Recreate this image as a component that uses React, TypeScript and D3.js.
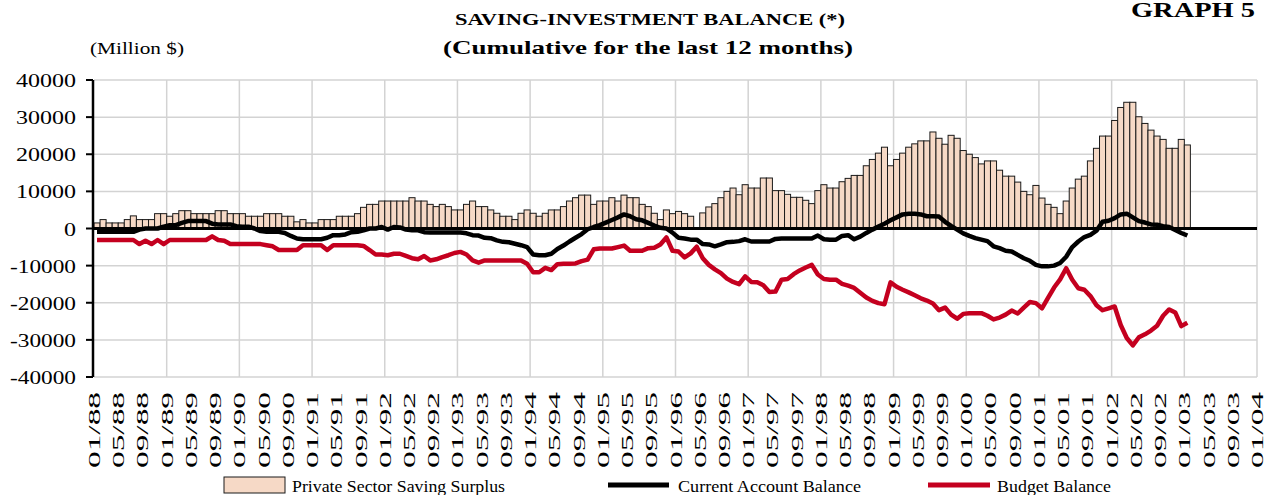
import React from "react";
import * as d3 from "d3";

// x axis labels, every 4 months, 01/88 .. 01/04
const tickLabels = [
  "01/88", "05/88", "09/88", "01/89", "05/89", "09/89", "01/90", "05/90", "09/90",
  "01/91", "05/91", "09/91", "01/92", "05/92", "09/92", "01/93", "05/93", "09/93",
  "01/94", "05/94", "09/94", "01/95", "05/95", "09/95", "01/96", "05/96", "09/96",
  "01/97", "05/97", "09/97", "01/98", "05/98", "09/98", "01/99", "05/99", "09/99",
  "01/00", "05/00", "09/00", "01/01", "05/01", "09/01", "01/02", "05/02", "09/02",
  "01/03", "05/03", "09/03", "01/04",
];
const yTicks = [40000, 30000, 20000, 10000, 0, -10000, -20000, -30000, -40000];

// monthly values, 01/88 .. 01/03 (million $)
const privateSurplus = [
  1500, 2400, 1500, 1500, 1500, 2400, 3400, 2400, 2400, 2400, 4000, 4000,
  3300, 4000, 4800, 4800, 4000, 4000, 4000, 4000, 4800, 4800, 4000, 4000,
  4000, 3300, 3300, 3300, 4000, 4000, 4000, 3300, 3300, 1800, 2400, 1500,
  1500, 2400, 2400, 2400, 3300, 3300, 3300, 4000, 5700, 6500, 6500, 7400,
  7400, 7400, 7400, 7400, 8300, 7400, 7400, 6500, 5900, 6500, 5900, 5000,
  5000, 6500, 7400, 5900, 5900, 5000, 4100, 3300, 3300, 2400, 4100, 5000,
  4100, 3300, 4100, 5000, 5000, 5900, 7400, 8300, 9000, 9000, 6500, 7400,
  7400, 8300, 7400, 9000, 8300, 8300, 6500, 5900, 4100, 2400, 5000, 4000,
  4600, 4000, 3300, 0, 4200, 5800, 6700, 8300, 10000, 10900, 9100, 11800,
  10900, 10900, 13600, 13600, 10200, 10200, 9200, 8400, 8400, 7600, 6700, 10200,
  11800, 10900, 10900, 12600, 13500, 14300, 14300, 16900, 18600, 20300, 21900, 16900,
  18600, 20300, 21900, 22800, 23600, 23600, 26000, 24300, 22700, 25100, 24300, 21000,
  20000, 19100, 17400, 18200, 18200, 15700, 14100, 14100, 12500, 10000, 9100, 11600,
  8200, 6500, 5700, 4000, 7400, 10900, 13300, 14100, 18200, 21600, 24900, 24900,
  29100, 32600, 34000, 34000, 30100, 28300, 26500, 24900, 24000, 21600, 21600, 24000,
  22500,
];

const currentAccount = [
  -900, -900, -900, -900, -900, -900, -900, -300, 0, 0, 0, 500,
  900, 900, 1500, 2000, 2000, 2000, 2000, 1300, 1100, 1100, 1100, 600,
  500, 500, 0, -700, -900, -900, -900, -1200, -2000, -2700, -2900, -2900,
  -2900, -2900, -2500, -1800, -1800, -1600, -1000, -900, -500, 0, 0, 400,
  -300, 400, 300, -300, -500, -500, -1000, -1100, -1100, -1100, -1100, -1100,
  -1100, -1300, -1800, -1900, -2500, -2600, -3200, -3600, -3700, -4100, -4500, -5000,
  -7000, -7200, -7200, -6800, -5500, -4600, -3500, -2500, -1500, -200, 400, 900,
  1600, 2300, 3000, 3800, 3300, 2500, 2200, 1500, 800, 200, 0, -1100,
  -2500, -2700, -3000, -3000, -4200, -4300, -4800, -4300, -3700, -3600, -3400, -2900,
  -3500, -3500, -3500, -3500, -2800, -2700, -2700, -2700, -2700, -2700, -2700, -1900,
  -2900, -3000, -3000, -2000, -1800, -2900, -2200, -1200, -300, 500, 1300, 2200,
  3000, 3800, 4000, 4000, 3800, 3300, 3300, 3200, 1800, 700, -300, -1300,
  -2000, -2600, -3000, -3400, -4800, -5300, -6000, -6200, -7100, -8000, -8700, -9800,
  -10200, -10200, -10000, -9300, -7600, -5000, -3500, -2300, -1700, -600, 1800, 2100,
  2800, 3800, 4000, 3000, 2000, 1600, 1100, 1000, 600, 400, -400, -1200,
  -1900,
];

const budgetBalance = [
  -3100, -3100, -3100, -3100, -3100, -3100, -3100, -4200, -3300, -4200, -3100, -4200,
  -3100, -3100, -3100, -3100, -3100, -3100, -3100, -2100, -3100, -3300, -4200, -4200,
  -4200, -4200, -4200, -4200, -4500, -4800, -5800, -5800, -5800, -5800, -4500, -4500,
  -4500, -4500, -5800, -4500, -4500, -4500, -4500, -4500, -4700, -5800, -7000, -7000,
  -7200, -6800, -6800, -7400, -8000, -8300, -7400, -8600, -8300, -7700, -7200, -6600,
  -6300, -7000, -8600, -9200, -8600, -8600, -8600, -8600, -8600, -8600, -8600, -9500,
  -11800, -11800, -10600, -11200, -9600, -9500, -9500, -9400, -8800, -8400, -5600, -5400,
  -5400, -5400, -5000, -4600, -6000, -6000, -6000, -5300, -5200, -4300, -2400, -6000,
  -6200, -7800, -6700, -4900, -8000, -9800, -11000, -12000, -13500, -14400, -15000, -12900,
  -14400, -14500, -15300, -17100, -17000, -13800, -13600, -12300, -11300, -10500, -9800, -12400,
  -13600, -13800, -13800, -14900, -15400, -16000, -17300, -18600, -19500, -20100, -20400, -14500,
  -15700, -16500, -17200, -18000, -18800, -19400, -20200, -22000, -21300, -23200, -24300, -23000,
  -22800, -22800, -22800, -23500, -24500, -24000, -23200, -22100, -22900, -21300, -19800, -20100,
  -21500, -18700, -15900, -13700, -10700, -13800, -16100, -16500, -18200, -20700, -22000, -21500,
  -21000, -26000, -29500, -31500, -29300, -28500, -27500, -26200, -23500, -21800, -22600, -26300,
  -25400,
];

const FONT = "'Liberation Serif', 'Times New Roman', serif";
const BAR_FILL = "#f6d9c6";
const RED = "#c4001f";

export default function App() {
  const left = 94, right = 1257, top = 80, bottom = 377;
  const x = d3.scaleLinear().domain([0, 192]).range([left, right]);
  const y = d3.scaleLinear().domain([-40000, 40000]).range([bottom, top]);
  const step = x(1) - x(0);

  const line = d3.line<number>()
    .x((_, i) => x(i + 0.5))
    .y((d) => y(d));

  const yearTicks = d3.range(12, 193, 12);

  return (
    <svg width={1270} height={495} style={{ position: "absolute", left: 0, top: 0, background: "#fff" }}
      fontFamily={FONT}>
      {/* titles */}
      <text x={650} y={25} textAnchor="middle" fontWeight="bold" fontSize={17} textLength={390} lengthAdjust="spacingAndGlyphs">SAVING-INVESTMENT BALANCE (*)</text>
      <text x={648} y={54} textAnchor="middle" fontWeight="bold" fontSize={19} textLength={410} lengthAdjust="spacingAndGlyphs">(Cumulative for the last 12 months)</text>
      <text x={1131} y={17} fontWeight="bold" fontSize={20} textLength={124} lengthAdjust="spacingAndGlyphs">GRAPH 5</text>
      <text x={90} y={54} fontSize={17} textLength={94} lengthAdjust="spacingAndGlyphs">(Million $)</text>

      {/* grid */}
      <g stroke="#d3d3d3" strokeWidth={1.5}>
        {yTicks.map((t) => (
          <line key={t} x1={left} x2={right} y1={y(t)} y2={y(t)} />
        ))}
        {yearTicks.map((m) => (
          <line key={m} x1={x(m)} x2={x(m)} y1={top} y2={bottom} />
        ))}
      </g>

      {/* bars */}
      <g fill={BAR_FILL} stroke="#1a1a1a" strokeWidth={1}>
        {privateSurplus.map((v, i) => v > 0 && (
          <rect key={i} x={x(i)} width={step} y={y(v)} height={y(0) - y(v)} />
        ))}
      </g>

      {/* zero line */}
      <line x1={left} x2={right} y1={y(0)} y2={y(0)} stroke="#000" strokeWidth={3} />

      {/* series lines */}
      <path d={line(currentAccount) ?? ""} fill="none" stroke="#000" strokeWidth={4.5} strokeLinejoin="round" />
      <path d={line(budgetBalance) ?? ""} fill="none" stroke={RED} strokeWidth={4.5} strokeLinejoin="round" />

      {/* y axis */}
      <line x1={left - 1} x2={left - 1} y1={top} y2={bottom} stroke="#000" strokeWidth={2.5} />
      {yTicks.map((t) => (
        <g key={t}>
          <line x1={left - 8} x2={left - 1} y1={y(t)} y2={y(t)} stroke="#000" strokeWidth={2} />
          <text x={76} y={y(t) + 7} textAnchor="end" fontSize={19} textLength={t < 0 ? 66 : t === 0 ? 12 : 60}
            lengthAdjust="spacingAndGlyphs">{t}</text>
        </g>
      ))}

      {/* x labels */}
      {tickLabels.map((lab, i) => (
        <text key={lab} transform={`translate(${x(i * 4) + 6},392) rotate(-90)`} textAnchor="end"
          fontSize={16} textLength={76} lengthAdjust="spacingAndGlyphs">{lab}</text>
      ))}

      {/* legend */}
      <rect x={224} y={477} width={61} height={16} fill={BAR_FILL} stroke="#1a1a1a" strokeWidth={1} />
      <text x={292} y={492} fontSize={17} textLength={213} lengthAdjust="spacingAndGlyphs">Private Sector Saving Surplus</text>
      <line x1={608} x2={669} y1={485} y2={485} stroke="#000" strokeWidth={5} />
      <text x={678} y={492} fontSize={17} textLength={183} lengthAdjust="spacingAndGlyphs">Current Account Balance</text>
      <line x1={928} x2={990} y1={485} y2={485} stroke={RED} strokeWidth={5} />
      <text x={997} y={492} fontSize={17} textLength={114} lengthAdjust="spacingAndGlyphs">Budget Balance</text>
    </svg>
  );
}
